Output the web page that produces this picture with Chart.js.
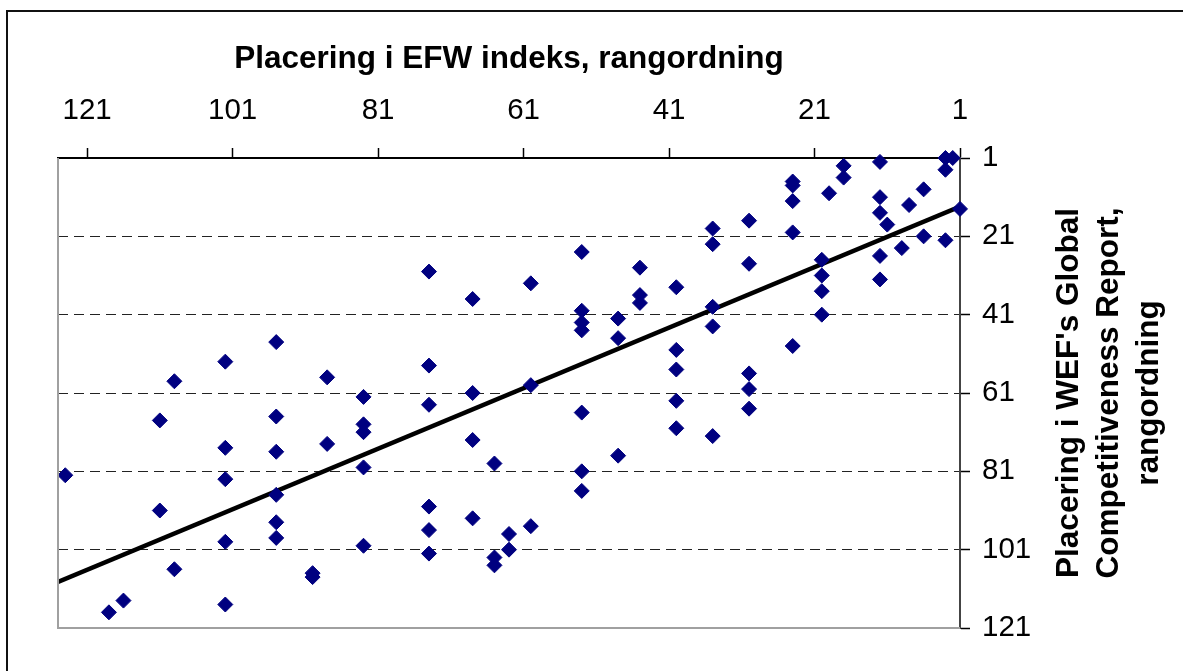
<!DOCTYPE html>
<html>
<head>
<meta charset="utf-8">
<script src="https://cdn.jsdelivr.net/npm/chart.js@4/dist/chart.umd.min.js"></script>
<style>
  html, body { margin: 0; padding: 0; background: #fff; }
  #wrap { width: 1183px; height: 671px; }
</style>
</head>
<body>
<div id="wrap"><canvas id="chart" width="1183" height="671"></canvas></div>
<script>
// Placering i EFW indeks (x) og WEF Global Competitiveness Report (y)
const efwRank = [
  1, 2, 3, 3, 3, 6, 6, 8, 9, 11,
  12, 12, 12, 12, 12, 17, 17, 19, 20, 20, 20, 20,
  24, 24, 24, 24, 24, 30, 30, 30, 30, 30,
  35, 35, 35, 35, 35, 40, 40, 40, 40, 40,
  45, 45, 45, 48, 48, 48,
  53, 53, 53, 53, 53, 53, 53, 60, 60, 60, 63, 63, 65, 65, 65,
  68, 68, 68, 68, 74, 74, 74, 74, 74, 74,
  83, 83, 83, 83, 83, 88, 88, 90, 90,
  95, 95, 95, 95, 95, 95, 102, 102, 102, 102, 102,
  109, 109, 111, 111, 116, 118, 124
];
const wefRank = [
  14, 1, 1, 4, 22, 9, 21, 13, 24, 18,
  2, 11, 15, 26, 32, 3, 6, 10, 27, 31, 35, 41,
  7, 8, 12, 20, 49, 17, 28, 56, 60, 65,
  19, 23, 39, 44, 72, 34, 50, 55, 63, 70,
  29, 36, 38, 42, 47, 77,
  25, 40, 43, 45, 66, 81, 86, 33, 59, 95, 97, 101, 79, 103, 105,
  37, 61, 73, 93, 30, 54, 64, 90, 96, 102,
  62, 69, 71, 80, 100, 57, 74, 107, 108,
  48, 67, 76, 87, 94, 98, 53, 75, 83, 99, 115,
  58, 106, 68, 91, 114, 117, 82
];
const xTicks = [1, 21, 41, 61, 81, 101, 121];
const yTicks = [1, 21, 41, 61, 81, 101, 121];
const xRange = [1, 125];
const yRange = [1, 121];

const xTitle = 'Placering i EFW indeks, rangordning';
const yTitle = ["Placering i WEF's Global", 'Competitiveness Report,', 'rangordning'];

const FONT = '"Liberation Sans", Arial, sans-serif';

const points = efwRank.map((x, i) => ({ x: x, y: wefRank[i] }));

// lineær trend (mindste kvadraters metode)
function trend(xs, ys) {
  const n = xs.length;
  const mx = xs.reduce((a, b) => a + b, 0) / n;
  const my = ys.reduce((a, b) => a + b, 0) / n;
  let sxy = 0, sxx = 0;
  for (let i = 0; i < n; i++) {
    sxy += (xs[i] - mx) * (ys[i] - my);
    sxx += (xs[i] - mx) * (xs[i] - mx);
  }
  const b = sxy / sxx;
  const a = my - b * mx;
  return xRange.map(x => ({ x: x, y: a + b * x }));
}

const decor = {
  id: 'decor',
  afterDraw(chart) {
    const ctx = chart.ctx;
    const area = chart.chartArea;
    ctx.save();
    // ramme om hele diagrammet
    ctx.strokeStyle = '#111';
    ctx.lineWidth = 2;
    ctx.strokeRect(7, 11, 1200, 700);
    // venstre og nederste kant af plotområdet
    ctx.strokeStyle = '#a0a0a0';
    ctx.lineWidth = 2;
    ctx.beginPath();
    ctx.moveTo(area.left, area.top);
    ctx.lineTo(area.left, area.bottom);
    ctx.lineTo(area.right, area.bottom);
    ctx.stroke();
    // titler
    ctx.fillStyle = '#000';
    ctx.font = 'bold 31.5px ' + FONT;
    ctx.textAlign = 'center';
    ctx.textBaseline = 'alphabetic';
    ctx.fillText(xTitle, (area.left + area.right) / 2, 68);
    const midY = (area.top + area.bottom) / 2;
    yTitle.forEach((line, i) => {
      ctx.save();
      ctx.translate(1078 + i * 40, midY);
      ctx.rotate(-Math.PI / 2);
      ctx.fillText(line, 0, 0);
      ctx.restore();
    });
    ctx.restore();
  }
};

new Chart(document.getElementById('chart'), {
  type: 'scatter',
  data: {
    datasets: [{
      label: 'Lande',
      data: points,
      pointStyle: 'rectRot',
      pointRadius: 7.5,
      pointHoverRadius: 7.5,
      backgroundColor: '#000080',
      borderColor: '#000080',
      borderWidth: 1,
      clip: false
    }, {
      type: 'line',
      label: 'Trend',
      data: trend(efwRank, wefRank),
      borderColor: '#000',
      borderWidth: 4.5,
      pointRadius: 0,
      fill: false
    }]
  },
  options: {
    responsive: false,
    animation: false,
    layout: { padding: { left: 58, right: 0, top: 0, bottom: 43 } },
    plugins: {
      legend: { display: false },
      tooltip: { enabled: false },
      title: { display: false }
    },
    scales: {
      x: {
        type: 'linear',
        position: 'top',
        reverse: true,
        min: xRange[0],
        max: xRange[1],
        afterBuildTicks: s => { s.ticks = xTicks.map(v => ({ value: v })); },
        afterFit: s => { s.height = 158; },
        grid: {
          drawOnChartArea: false,
          drawTicks: true,
          tickLength: 10,
          tickColor: '#000',
          tickWidth: 1.5
        },
        border: { display: true, color: '#000', width: 2 },
        ticks: {
          color: '#000',
          padding: 19,
          maxRotation: 0,
          font: { family: FONT, size: 29.5 }
        }
      },
      y: {
        type: 'linear',
        position: 'right',
        reverse: true,
        min: yRange[0],
        max: yRange[1],
        afterBuildTicks: s => { s.ticks = yTicks.map(v => ({ value: v })); },
        afterFit: s => { s.width = 1183 - 960; },
        grid: {
          drawOnChartArea: true,
          color: c => (c.tick && (c.tick.value === yRange[0] || c.tick.value === yRange[1])) ? 'rgba(0,0,0,0)' : '#222',
          lineWidth: 1,
          tickLength: 10,
          tickColor: '#000',
          tickWidth: 1.5,
          tickBorderDash: []
        },
        // i Chart.js v4 styrer border.dash gitterlinjernes stiplede mønster
        border: { display: true, color: '#444', width: 2, dash: [10, 6] },
        ticks: {
          color: '#000',
          padding: 12,
          font: { family: FONT, size: 29.5 }
        }
      }
    }
  },
  plugins: [decor]
});
</script>
</body>
</html>
